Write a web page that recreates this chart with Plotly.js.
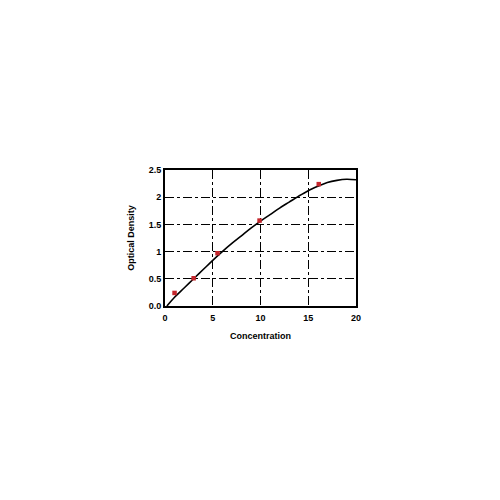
<!DOCTYPE html>
<html>
<head>
<meta charset="utf-8">
<script src="https://cdn.plot.ly/plotly-3.0.1.min.js"></script>
<style>
  html, body { margin: 0; padding: 0; background: #fff; }
  #chart { width: 500px; height: 500px; }
</style>
</head>
<body>
<div id="chart"></div>
<script>
// measured standards
let pointConc = [1.0, 3.0, 5.5, 9.9, 16.1];
let pointOD = [0.24, 0.51, 0.97, 1.57, 2.24];

// fitted curve
let curveConc = [0.2, 1, 2, 3, 4, 5, 6, 7, 8, 9, 10, 11, 12, 13, 14, 15, 16, 17, 18, 19, 20];
let curveOD = [0, 0.16, 0.33, 0.5, 0.67, 0.84, 1.0, 1.15, 1.29, 1.43, 1.56, 1.68, 1.80, 1.91, 2.02, 2.12, 2.20, 2.27, 2.31, 2.33, 2.32];

let xTicks = [0, 5, 10, 15, 20];
let yTicks = [0, 0.5, 1, 1.5, 2, 2.5];
let yTickText = ["0.0", "0.5", "1", "1.5", "2", "2.5"];

let boldFont = { family: "Liberation Sans, Arial, sans-serif", size: 9, color: "#000", weight: "bold" };

let curveTrace = {
    x: curveConc,
    y: curveOD,
    type: "scatter",
    mode: "lines",
    line: { color: "#000", width: 1.6, shape: "spline" },
    hoverinfo: "skip"
};

let pointTrace = {
    x: pointConc,
    y: pointOD,
    type: "scatter",
    mode: "markers",
    marker: { color: "#c4262c", size: 4.5, symbol: "square" }
};

let layout = {
    width: 500,
    height: 500,
    margin: { l: 165, r: 144, t: 170, b: 194 },
    paper_bgcolor: "#fff",
    plot_bgcolor: "#fff",
    showlegend: false,
    font: boldFont,
    xaxis: {
        range: [0, 20],
        tickvals: xTicks,
        ticks: "",
        ticklabelstandoff: 2,
        tickfont: boldFont,
        showgrid: true,
        gridcolor: "#000",
        gridwidth: 1,
        griddash: "dashdot",
        zeroline: false,
        showline: true,
        linecolor: "#000",
        linewidth: 2,
        mirror: true,
        title: { text: "Concentration", font: boldFont, standoff: 11 }
    },
    yaxis: {
        range: [0, 2.5],
        tickvals: yTicks,
        ticktext: yTickText,
        ticks: "",
        tickfont: boldFont,
        showgrid: true,
        gridcolor: "#000",
        gridwidth: 1,
        griddash: "dashdot",
        zeroline: false,
        showline: true,
        linecolor: "#000",
        linewidth: 2,
        mirror: true,
        title: { text: "Optical Density", font: boldFont, standoff: 13 }
    }
};

Plotly.newPlot("chart", [curveTrace, pointTrace], layout, { displayModeBar: false, staticPlot: true });
</script>
</body>
</html>
